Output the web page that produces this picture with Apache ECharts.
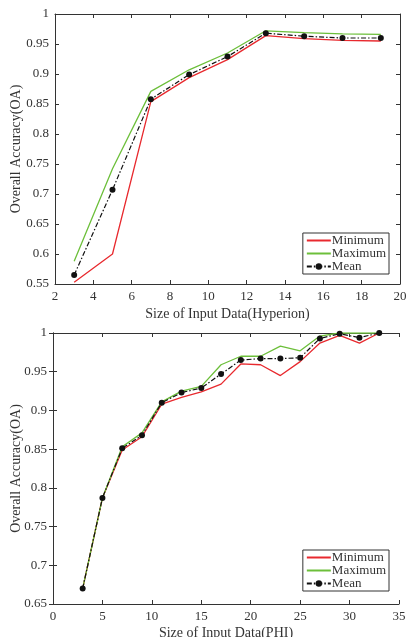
<!DOCTYPE html>
<html><head><meta charset="utf-8">
<script src="https://cdn.jsdelivr.net/npm/echarts@6/dist/echarts.min.js"></script>
<style>html,body{margin:0;padding:0;background:#fff;}#c{width:406px;height:637px;}</style>
</head><body><div id="c"></div>
<script>
// Top chart (Hyperion)
const xTop = [3, 5, 7, 9, 11, 13, 15, 17, 19];
const minTop = [0.553, 0.600, 0.854, 0.894, 0.924, 0.964, 0.959, 0.956, 0.955];
const maxTop = [0.588, 0.742, 0.871, 0.907, 0.935, 0.972, 0.969, 0.967, 0.966];
const meanTop = [0.565, 0.707, 0.858, 0.899, 0.929, 0.968, 0.963, 0.960, 0.960];
// Bottom chart (PHI)
const xBot = [3, 5, 7, 9, 11, 13, 15, 17, 19, 21, 23, 25, 27, 29, 31, 33];
const minBot = [0.670, 0.787, 0.849, 0.866, 0.908, 0.917, 0.924, 0.934, 0.960, 0.959, 0.945, 0.963, 0.987, 0.997, 0.987, 1.000];
const maxBot = [0.670, 0.787, 0.853, 0.871, 0.911, 0.925, 0.931, 0.959, 0.970, 0.970, 0.983, 0.977, 0.996, 1.000, 1.000, 1.000];
const meanBot = [0.670, 0.787, 0.851, 0.868, 0.910, 0.923, 0.929, 0.947, 0.965, 0.967, 0.967, 0.968, 0.993, 0.999, 0.994, 1.000];

const legendNames = ['Minimum', 'Maximum', 'Mean'];
const RED = '#e8292e', GREEN = '#6cbf3a', BLACK = '#111';
const FONT = 'Liberation Serif';
const TXT = '#333';

function pairs(xs, ys) { return xs.map((x, i) => [x, ys[i]]); }

function xAx(grid, min, max, interval, name, gap) {
  return [{
    type: 'value', gridIndex: grid, min: min, max: max, interval: interval,
    name: name, nameLocation: 'middle', nameGap: gap,
    nameTextStyle: { fontFamily: FONT, fontSize: 14, color: TXT },
    axisLine: { lineStyle: { color: '#333', width: 1 } },
    axisTick: { inside: true, length: 4, lineStyle: { color: '#333' } },
    axisLabel: { fontFamily: FONT, fontSize: 13, color: TXT, margin: 6 },
    splitLine: { show: false }
  }, {
    type: 'value', gridIndex: grid, min: min, max: max, interval: interval, position: 'top',
    axisLine: { lineStyle: { color: '#333', width: 1 } },
    axisTick: { inside: true, length: 4, lineStyle: { color: '#333' } },
    axisLabel: { show: false }, splitLine: { show: false }
  }];
}
function yAx(grid, min, max, interval, name, gap) {
  return [{
    type: 'value', gridIndex: grid, min: min, max: max, interval: interval,
    name: name, nameLocation: 'middle', nameGap: gap, nameMoveOverlap: false,
    nameTextStyle: { fontFamily: FONT, fontSize: 14, color: TXT },
    axisLine: { show: true, lineStyle: { color: '#333', width: 1 } },
    axisTick: { show: true, inside: true, length: 4, lineStyle: { color: '#333' } },
    axisLabel: { fontFamily: FONT, fontSize: 13, color: TXT, margin: 6 },
    splitLine: { show: false }
  }, {
    type: 'value', gridIndex: grid, min: min, max: max, interval: interval, position: 'right',
    axisLine: { show: true, lineStyle: { color: '#333', width: 1 } },
    axisTick: { show: true, inside: true, length: 4, lineStyle: { color: '#333' } },
    axisLabel: { show: false }, splitLine: { show: false }
  }];
}

function seriesSet(xi, yi, xs, mn, mx, me) {
  return [
    { name: 'Minimum', type: 'line', xAxisIndex: xi, yAxisIndex: yi, data: pairs(xs, mn),
      symbol: 'none', lineStyle: { color: RED, width: 1.3 }, itemStyle: { color: RED }, z: 2 },
    { name: 'Maximum', type: 'line', xAxisIndex: xi, yAxisIndex: yi, data: pairs(xs, mx),
      symbol: 'none', lineStyle: { color: GREEN, width: 1.3 }, itemStyle: { color: GREEN }, z: 2 },
    { name: 'Mean', type: 'line', xAxisIndex: xi, yAxisIndex: yi, data: pairs(xs, me),
      symbol: 'circle', symbolSize: 6,
      lineStyle: { color: BLACK, width: 1.2, type: [5, 2, 1.5, 2] },
      itemStyle: { color: BLACK }, z: 3 }
  ];
}

function legend(top) {
  const hidden = { color: 'rgba(0,0,0,0)', borderColor: 'rgba(0,0,0,0)', borderWidth: 0 };
  return {
    orient: 'vertical', right: 17, top: top,
    data: [
      { name: legendNames[0], itemStyle: hidden },
      { name: legendNames[1], itemStyle: hidden },
      { name: legendNames[2] }
    ],
    backgroundColor: '#fff', borderColor: '#333', borderWidth: 1,
    padding: [1, 3, 1, 3], itemGap: 0, itemWidth: 24, itemHeight: 8,
    textStyle: { fontFamily: FONT, fontSize: 13, color: TXT, padding: [0, 0, 0, -4], lineHeight: 13 }
  };
}

const chart = echarts.init(document.getElementById('c'));
chart.setOption({
  backgroundColor: '#fff',
  animation: false,
  grid: [
    { left: 55, top: 14, width: 345, height: 270, containLabel: false, outerBoundsMode: 'none' },
    { left: 53, top: 333, width: 346, height: 271, containLabel: false, outerBoundsMode: 'none' }
  ],
  legend: [legend(233), legend(550)],
  xAxis: [].concat(
    xAx(0, 2, 20, 2, 'Size of Input Data(Hyperion)', 23),
    xAx(1, 0, 35, 5, 'Size of Input Data(PHI)', 22)
  ),
  yAxis: [].concat(
    yAx(0, 0.55, 1, 0.05, 'Overall Accuracy(OA)', 32),
    yAx(1, 0.65, 1, 0.05, 'Overall Accuracy(OA)', 30)
  ),
  series: [].concat(
    seriesSet(0, 0, xTop, minTop, maxTop, meanTop),
    seriesSet(2, 2, xBot, minBot, maxBot, meanBot)
  )
});
</script></body></html>
